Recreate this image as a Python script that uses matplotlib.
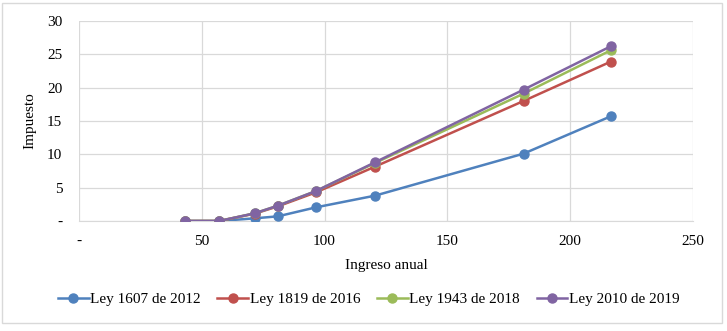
import matplotlib
matplotlib.use("Agg")
import matplotlib.pyplot as plt
from matplotlib.patches import Rectangle

plt.rcParams['font.family'] = ['Liberation Serif', 'DejaVu Serif']

income = [43, 57, 71.5, 81, 96.5, 120.5, 181, 216.5]
ley_2012 = [0, 0, 0.4, 0.7, 2.05, 3.8, 10.1, 15.7]
ley_2016 = [0, 0, 1.1, 2.2, 4.3, 8.15, 18.0, 23.9]
ley_2018 = [0, 0, 1.15, 2.3, 4.5, 8.7, 19.1, 25.6]
ley_2019 = [0, 0, 1.15, 2.3, 4.5, 8.8, 19.7, 26.2]
series_names = ["Ley 1607 de 2012", "Ley 1819 de 2016", "Ley 1943 de 2018", "Ley 2010 de 2019"]
colors = ["#4F81BD", "#C0504D", "#9BBB59", "#8064A2"]
x_ticks = [0, 50, 100, 150, 200, 250]
y_ticks = [0, 5, 10, 15, 20, 25, 30]

fig = plt.figure(figsize=(7.27, 3.31), dpi=100)
ax = fig.add_axes([79/727, 1 - 221/331, (693-79)/727, 200/331])

for vals, name, c in zip([ley_2012, ley_2016, ley_2018, ley_2019], series_names, colors):
    ax.plot(income, vals, color=c, lw=1.8, marker='o', markersize=6.5, label=name, zorder=3)

ax.set_xlim(0, 250)
ax.set_ylim(0, 30)
ax.set_xticks(x_ticks)
ax.set_xticklabels(['-' if t == 0 else str(t) for t in x_ticks])
ax.set_yticks(y_ticks)
ax.set_yticklabels(['-' if t == 0 else str(t) for t in y_ticks])
ax.grid(True, color='#D9D9D9', lw=0.9)
ax.set_axisbelow(True)
for s in ['top', 'right', 'left']:
    ax.spines[s].set_visible(False)
ax.spines['bottom'].set_color('#D9D9D9')
ax.tick_params(axis='x', length=0, labelsize=11, pad=10)
ax.tick_params(axis='y', length=0, labelsize=11, pad=12)
ax.set_xlabel("Ingreso anual", fontsize=11, labelpad=8)
ax.set_ylabel("Impuesto", fontsize=11, labelpad=8)

fig.legend(loc='center', bbox_to_anchor=(0.507, 1 - 299/331), ncol=4, frameon=False,
           fontsize=11, handlelength=2.0, handletextpad=0.1, columnspacing=1.1)

fig.patches.append(Rectangle((2/727, 8/331), 720/727, 320/331, transform=fig.transFigure,
                             fill=False, edgecolor='#D9D9D9', lw=1))
fig.savefig("out.png", dpi=100)
